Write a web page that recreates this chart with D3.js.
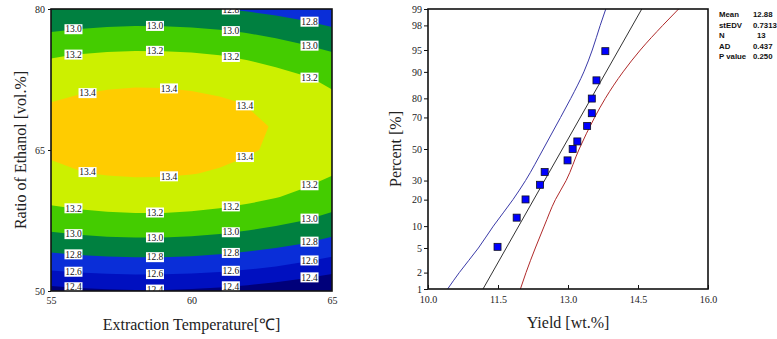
<!DOCTYPE html>
<html>
<head>
<meta charset="utf-8">
<script src="https://cdn.jsdelivr.net/npm/d3@7"></script>
<style>
body { margin: 0; background: #fff; }
svg { display: block; }
.axis text { font-family: "Liberation Serif", "Times New Roman", serif; font-size: 10px; fill: #222; }
.axis line { stroke: #111; }
.axis path { display: none; }
.title { font-family: "Liberation Serif", "Times New Roman", serif; font-size: 16px; fill: #222; }
.clabel text { font-family: "Liberation Serif", "Times New Roman", serif; font-size: 9.5px; fill: #111; }
.stats text { font-family: "Liberation Sans", Arial, sans-serif; font-size: 7.8px; font-weight: bold; fill: #111; }
</style>
</head>
<body>
<script>
// ---- left panel: response surface, yield [wt.%] on a temperature x ethanol grid
var temperatures = [55, 56, 57, 58, 59, 60, 61, 62, 63, 64, 65]
var ethanolLevels = [50, 52.5, 55, 57.5, 60, 62.5, 65, 67.5, 70, 72.5, 75, 77.5, 80]
var yieldGrid = [
  [12.335, 12.362, 12.379, 12.387, 12.386, 12.375, 12.355, 12.325, 12.286, 12.238, 12.180],
  [12.637, 12.664, 12.681, 12.689, 12.688, 12.677, 12.657, 12.627, 12.588, 12.540, 12.482],
  [12.892, 12.919, 12.936, 12.944, 12.943, 12.932, 12.912, 12.882, 12.843, 12.795, 12.737],
  [13.098, 13.125, 13.142, 13.150, 13.149, 13.138, 13.118, 13.088, 13.049, 13.001, 12.943],
  [13.256, 13.283, 13.300, 13.308, 13.307, 13.296, 13.276, 13.246, 13.207, 13.159, 13.101],
  [13.365, 13.392, 13.409, 13.417, 13.416, 13.405, 13.385, 13.355, 13.316, 13.268, 13.210],
  [13.426, 13.453, 13.470, 13.478, 13.477, 13.466, 13.446, 13.416, 13.377, 13.329, 13.271],
  [13.439, 13.466, 13.483, 13.491, 13.490, 13.479, 13.459, 13.429, 13.390, 13.342, 13.284],
  [13.403, 13.430, 13.447, 13.455, 13.454, 13.443, 13.423, 13.393, 13.354, 13.306, 13.248],
  [13.319, 13.346, 13.363, 13.371, 13.370, 13.359, 13.339, 13.309, 13.270, 13.222, 13.164],
  [13.186, 13.213, 13.230, 13.238, 13.237, 13.226, 13.206, 13.176, 13.137, 13.089, 13.031],
  [13.005, 13.032, 13.049, 13.057, 13.056, 13.045, 13.025, 12.995, 12.956, 12.908, 12.850],
  [12.796, 12.823, 12.840, 12.848, 12.847, 12.830, 12.806, 12.776, 12.740, 12.695, 12.641]
]
var contourLevels = [12.4, 12.6, 12.8, 13.0, 13.2, 13.4]
var bandColors = ['#00007a', '#0010c0', '#0a2ed8', '#008040', '#44cc00', '#ccf000', '#ffcc00']
var labelTemps = [55.8, 58.7, 61.4, 64.2]
var peakLabelTemps = [56.3, 59.2, 61.9]
var tempTicks = [55, 60, 65]
var ethanolTicks = [50, 65, 80]

// ---- right panel: normal probability plot of yield
var yieldValues = [11.49, 11.90, 12.09, 12.40, 12.50, 12.99, 13.10, 13.20, 13.41, 13.51, 13.51, 13.61, 13.80]
var yieldPercents = [5.2, 12.7, 20.1, 27.6, 35.1, 42.5, 50.0, 55.0, 64.9, 72.4, 79.9, 87.3, 94.8]
var bandPercents = [1, 2, 5, 10, 20, 30, 50, 70, 80, 90, 95, 98, 99]
var lowerBand = [10.42, 10.67, 11.08, 11.40, 11.82, 12.09, 12.47, 12.84, 13.06, 13.34, 13.52, 13.69, 13.81]
var upperBand = [11.98, 12.10, 12.30, 12.49, 12.73, 12.96, 13.24, 13.57, 13.80, 14.18, 14.55, 15.03, 15.37]
var percentTicks = [1, 2, 5, 10, 20, 30, 50, 70, 80, 90, 95, 98, 99]
var yieldTicks = [10.0, 11.5, 13.0, 14.5, 16.0]
var statNames = ['Mean', 'stEDV', 'N', 'AD', 'P value']
var statValues = ['12.88', '0.7313', '13', '0.437', '0.250']
var fitMean = 12.88
var fitSd = 0.7313

// inverse standard normal cdf (Acklam)
function probit(p) {
  var a = [-39.69683028665376, 220.9460984245205, -275.9285104469687, 138.3577518672690, -30.66479806614716, 2.506628277459239]
  var b = [-54.47609879822406, 161.5858368580409, -155.6989798598866, 66.80131188771972, -13.28068155288572]
  var c = [-0.007784894002430293, -0.3223964580411365, -2.400758277161838, -2.549732539343734, 4.374664141464968, 2.938163982698783]
  var d = [0.007784695709041462, 0.3224671290700398, 2.445134137142996, 3.754408661907416]
  var q, r
  if (p < 0.02425) {
    q = Math.sqrt(-2 * Math.log(p))
    return (((((c[0] * q + c[1]) * q + c[2]) * q + c[3]) * q + c[4]) * q + c[5]) / ((((d[0] * q + d[1]) * q + d[2]) * q + d[3]) * q + 1)
  }
  if (p > 1 - 0.02425) return -probit(1 - p)
  q = p - 0.5
  r = q * q
  return (((((a[0] * r + a[1]) * r + a[2]) * r + a[3]) * r + a[4]) * r + a[5]) * q /
    (((((b[0] * r + b[1]) * r + b[2]) * r + b[3]) * r + b[4]) * r + 1)
}

var svg = d3.select('body').append('svg')
  .attr('width', 777)
  .attr('height', 339)

// ================= left panel =================
var L = { left: 51, right: 332, top: 9, bottom: 291 }
var x = d3.scaleLinear().domain([55, 65]).range([L.left, L.right])
var y = d3.scaleLinear().domain([50, 80]).range([L.bottom, L.top])

var nx = temperatures.length
var ny = ethanolLevels.length
var flat = d3.merge(yieldGrid)

svg.append('clipPath').attr('id', 'clipL')
  .append('rect')
  .attr('x', L.left).attr('y', L.top)
  .attr('width', L.right - L.left).attr('height', L.bottom - L.top)

var gL = svg.append('g').attr('clip-path', 'url(#clipL)')

// grid index space -> data space (grid sample i sits at i + 0.5)
var tStep = (temperatures[nx - 1] - temperatures[0]) / (nx - 1)
var eStep = (ethanolLevels[ny - 1] - ethanolLevels[0]) / (ny - 1)
var project = d3.geoTransform({
  point: function (px, py) {
    this.stream.point(x(temperatures[0] + (px - 0.5) * tStep), y(ethanolLevels[0] + (py - 0.5) * eStep))
  }
})
var path = d3.geoPath(project)

gL.append('rect')
  .attr('x', L.left).attr('y', L.top)
  .attr('width', L.right - L.left).attr('height', L.bottom - L.top)
  .attr('fill', bandColors[0])

var contours = d3.contours().size([nx, ny]).thresholds(contourLevels)(flat)

gL.selectAll('path.band')
  .data(contours)
  .enter().append('path')
  .attr('class', 'band')
  .attr('d', path)
  .attr('fill', function (d, i) { return bandColors[i + 1] })

// bilinear read of the grid, used to find where each contour crosses a label column
function valueAt(t, e) {
  var fi = Math.max(0, Math.min(nx - 1.0001, (t - temperatures[0]) / tStep))
  var fj = Math.max(0, Math.min(ny - 1.0001, (e - ethanolLevels[0]) / eStep))
  var i = Math.floor(fi), j = Math.floor(fj), u = fi - i, v = fj - j
  return yieldGrid[j][i] * (1 - u) * (1 - v) + yieldGrid[j][i + 1] * u * (1 - v) +
    yieldGrid[j + 1][i] * (1 - u) * v + yieldGrid[j + 1][i + 1] * u * v
}

var labels = []
function collect(t, levels) {
  levels.forEach(function (lv) {
    var prev = valueAt(t, 50) - lv
    for (var e = 50.05; e <= 80.001; e += 0.05) {
      var cur = valueAt(t, e) - lv
      if ((prev < 0) !== (cur < 0)) labels.push({ t: t, e: e, v: lv })
      prev = cur
    }
  })
}
labelTemps.forEach(function (t) { collect(t, contourLevels.slice(0, 5)) })
peakLabelTemps.forEach(function (t) { collect(t, [13.4]) })

var lab = gL.selectAll('g.clabel')
  .data(labels)
  .enter().append('g')
  .attr('class', 'clabel')
  .attr('transform', function (d) { return 'translate(' + x(d.t) + ',' + y(d.e) + ')' })

lab.append('rect')
  .attr('x', -9).attr('y', -5)
  .attr('width', 18).attr('height', 10)
  .attr('fill', '#fff')

lab.append('text')
  .attr('text-anchor', 'middle')
  .attr('dy', '0.34em')
  .text(function (d) { return d3.format('.1f')(d.v) })

svg.append('rect')
  .attr('x', L.left).attr('y', L.top)
  .attr('width', L.right - L.left).attr('height', L.bottom - L.top)
  .attr('fill', 'none').attr('stroke', '#111').attr('stroke-width', 1.6)

svg.append('g')
  .attr('class', 'axis')
  .attr('transform', 'translate(0,' + L.bottom + ')')
  .call(d3.axisBottom(x).tickValues(tempTicks).tickSize(0).tickPadding(6))

svg.append('g')
  .attr('class', 'axis')
  .attr('transform', 'translate(' + L.left + ',0)')
  .call(d3.axisLeft(y).tickValues(ethanolTicks).tickSize(3).tickPadding(3))

svg.append('text')
  .attr('class', 'title')
  .attr('x', (L.left + L.right) / 2).attr('y', 330)
  .attr('text-anchor', 'middle')
  .text('Extraction Temperature[℃]')

svg.append('text')
  .attr('class', 'title')
  .attr('transform', 'translate(26,' + (L.top + L.bottom) / 2 + ') rotate(-90)')
  .attr('text-anchor', 'middle')
  .text('Ratio of Ethanol [vol.%]')

// ================= right panel =================
var R = { left: 428, right: 708, top: 9, bottom: 289 }
var xr = d3.scaleLinear().domain([10, 16]).range([R.left, R.right])
var zr = d3.scaleLinear().domain([probit(0.01), probit(0.99)]).range([R.bottom, R.top])
function yp(pct) { return zr(probit(pct / 100)) }

svg.append('clipPath').attr('id', 'clipR')
  .append('rect')
  .attr('x', R.left).attr('y', R.top)
  .attr('width', R.right - R.left).attr('height', R.bottom - R.top)

var gR = svg.append('g').attr('clip-path', 'url(#clipR)')

var bandLine = d3.line()
  .x(function (d) { return xr(d[1]) })
  .y(function (d) { return yp(d[0]) })
  .curve(d3.curveMonotoneY)

gR.append('path')
  .datum(d3.zip(bandPercents, lowerBand))
  .attr('d', bandLine)
  .attr('fill', 'none').attr('stroke', '#3a3aa8').attr('stroke-width', 1)

gR.append('path')
  .datum(d3.zip(bandPercents, upperBand))
  .attr('d', bandLine)
  .attr('fill', 'none').attr('stroke', '#b02a2a').attr('stroke-width', 1)

gR.append('line')
  .attr('x1', xr(fitMean + fitSd * probit(0.01))).attr('y1', yp(1))
  .attr('x2', xr(fitMean + fitSd * probit(0.99))).attr('y2', yp(99))
  .attr('stroke', '#333').attr('stroke-width', 1)

gR.selectAll('rect.pt')
  .data(d3.zip(yieldValues, yieldPercents))
  .enter().append('rect')
  .attr('class', 'pt')
  .attr('x', function (d) { return xr(d[0]) - 3.5 })
  .attr('y', function (d) { return yp(d[1]) - 3.5 })
  .attr('width', 7).attr('height', 7)
  .attr('fill', '#0000ff').attr('stroke', '#112').attr('stroke-width', 0.8)

svg.append('rect')
  .attr('x', R.left).attr('y', R.top)
  .attr('width', R.right - R.left).attr('height', R.bottom - R.top)
  .attr('fill', 'none').attr('stroke', '#111').attr('stroke-width', 1.6)

svg.append('g')
  .attr('class', 'axis')
  .attr('transform', 'translate(0,' + R.bottom + ')')
  .call(d3.axisBottom(xr).tickValues(yieldTicks).tickFormat(d3.format('.1f')).tickSize(-4).tickPadding(7))

svg.append('g')
  .attr('class', 'axis')
  .attr('transform', 'translate(' + R.left + ',0)')
  .call(d3.axisLeft(zr)
    .tickValues(percentTicks.map(function (p) { return probit(p / 100) }))
    .tickFormat(function (d, i) { return percentTicks[i] })
    .tickSize(4).tickPadding(2))

svg.append('text')
  .attr('class', 'title')
  .attr('x', (R.left + R.right) / 2).attr('y', 328)
  .attr('text-anchor', 'middle')
  .text('Yield [wt.%]')

svg.append('text')
  .attr('class', 'title')
  .attr('transform', 'translate(401,' + (R.top + R.bottom) / 2 + ') rotate(-90)')
  .attr('text-anchor', 'middle')
  .text('Percent [%]')

var stats = svg.append('g').attr('class', 'stats')
stats.selectAll('text.name')
  .data(statNames)
  .enter().append('text')
  .attr('class', 'name')
  .attr('x', 719)
  .attr('y', function (d, i) { return 17 + i * 10.6 })
  .text(function (d) { return d })
stats.selectAll('text.val')
  .data(statValues)
  .enter().append('text')
  .attr('class', 'val')
  .attr('x', function (d) { return d === '13' ? 757 : 753 })
  .attr('y', function (d, i) { return 17 + i * 10.6 })
  .text(function (d) { return d })
</script>
</body>
</html>
